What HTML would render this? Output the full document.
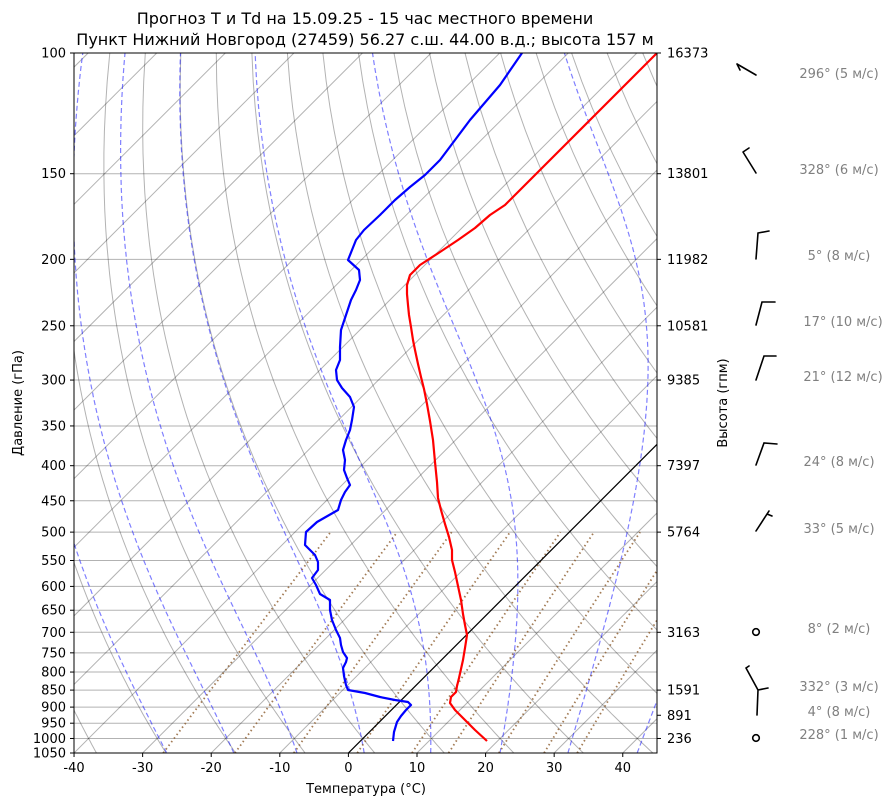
<!DOCTYPE html>
<html><head><meta charset="utf-8">
<style>
html,body{margin:0;padding:0;background:#fff;}
svg{display:block;font-family:"DejaVu Sans","Liberation Sans",sans-serif;}
</style></head>
<body>
<svg id="s" width="895" height="806" viewBox="0 0 895 806" xmlns="http://www.w3.org/2000/svg">
<defs><clipPath id="c"><rect x="74" y="53" width="583" height="700"/></clipPath></defs>
<g id="bg" clip-path="url(#c)"></g>
<g clip-path="url(#c)">
<polyline fill="none" stroke="#f00" stroke-width="2.2" stroke-linejoin="round" points="487,741 475,730 463,718 455,710 450,703 451,697 456,692 457,686 459,678 461,669 463,660 465,648 467,635 465,625 463,614 461,600 458,586 455,572 452,560 452,550 449,537 445,524 441,510 438,498 437,482 435,462 433,440 430,421 427,404 424,389 421,377 418,364 415,350 413,340 411,327 409,315 408,305 407,294 407,285 410,275 420,265 440,252 458,240 475,228 490,215 505,205 520,190 540,170 570,140 600,110 630,80 657,53"/>
<polyline fill="none" stroke="#00f" stroke-width="2.2" stroke-linejoin="round" points="393,741 394,732 397,722 401,716 406,710 411,705 408,702 395,700 380,697 365,693 348,690 346,685 344,676 343,668 346,662 347,658 343,652 341,645 340,638 336,630 332,620 330,610 330,600 320,594 316,585 312,578 318,570 318,562 315,555 305,545 306,532 317,522 338,510 341,500 345,492 350,485 347,478 344,470 345,460 343,450 346,440 350,430 352,420 354,407 350,397 342,388 337,380 336,370 340,360 340,347 341,330 346,315 351,300 356,290 360,280 359,270 348,260 352,250 356,240 364,230 380,215 395,200 410,187 425,175 440,160 455,140 470,120 500,85 522,53"/>
</g>
<rect x="74" y="53" width="583" height="700" fill="none" stroke="#000" stroke-width="1"/>
<g id="ax" font-size="13"></g>
<text x="365" y="24" font-size="16" text-anchor="middle">Прогноз T и Td на 15.09.25 - 15 час местного времени</text>
<text x="365" y="45" font-size="16" text-anchor="middle">Пункт Нижний Новгород (27459) 56.27 с.ш. 44.00 в.д.; высота 157 м</text>
<text x="366" y="793" font-size="13" text-anchor="middle">Температура (°C)</text>
<text transform="translate(22,403) rotate(-90)" font-size="13" text-anchor="middle">Давление (гПа)</text>
<text transform="translate(727,403) rotate(-90)" font-size="13" text-anchor="middle">Высота (гпм)</text>
<g stroke="#000" stroke-width="1.6" fill="none" stroke-linecap="round">
<path d="M756,75 L737,64 M737,64 L740,70"/>
<path d="M756,173 L743,152 M743,152 L749,148"/>
<path d="M756,259 L758,233 L769,231"/>
<path d="M756,325 L762,302 L775,302"/>
<path d="M756,380 L764,356 L776,356"/>
<path d="M756,465 L764,443 L777,444"/>
<path d="M756,531 L769,511 M767,514 L772,516"/>
<circle cx="756" cy="632" r="3.3"/>
<path d="M757,715 L758,690 L768,688 M758,690 L746,668 M746,668 L749,666"/>
<circle cx="756" cy="738" r="3.3"/>
</g>
<g font-size="13" fill="#808080" text-anchor="middle">
<text x="839" y="78">296° (5 м/с)</text>
<text x="839" y="174">328° (6 м/с)</text>
<text x="839" y="260">5° (8 м/с)</text>
<text x="843" y="326">17° (10 м/с)</text>
<text x="843" y="381">21° (12 м/с)</text>
<text x="839" y="466">24° (8 м/с)</text>
<text x="839" y="533">33° (5 м/с)</text>
<text x="839" y="633">8° (2 м/с)</text>
<text x="839" y="691">332° (3 м/с)</text>
<text x="839" y="716">4° (8 м/с)</text>
<text x="839" y="739">228° (1 м/с)</text>
</g>
</svg>
<script>
(function(){
var NS="http://www.w3.org/2000/svg";
var L=Math.log(10.5);
function Y(p){return 753-700*Math.log(1050/p)/L;}
function X(T,p){return 348.4+6.859*T+(753-Y(p));}
var bg=document.getElementById('bg'),ax=document.getElementById('ax');
function el(par,tag,a,txt){var e=document.createElementNS(NS,tag);for(var k in a)e.setAttribute(k,a[k]);if(txt!=null)e.textContent=txt;par.appendChild(e);return e;}
function poly(pts,a){a.points=pts.map(function(q){return q[0].toFixed(1)+','+q[1].toFixed(1)}).join(' ');a.fill='none';el(bg,'polyline',a);}
var levels=[100,150,200,250,300,350,400,450,500,550,600,650,700,750,800,850,900,950,1000,1050];
levels.forEach(function(p){var y=Y(p);el(bg,'line',{x1:74,x2:657,y1:y,y2:y,stroke:'#000','stroke-opacity':0.3,'stroke-width':1});});
for(var T=-200;T<=60;T+=10){el(bg,'line',{x1:X(T,1050),y1:753,x2:X(T,100),y2:53,stroke:'#000','stroke-opacity':0.3,'stroke-width':1});}
for(var t0=-40;t0<=200;t0+=10){var pts=[];for(var p=1050;p>=99;p-=10){var T=(t0+273.15)*Math.pow(p/1000,0.2857)-273.15;pts.push([X(T,p),Y(p)]);}poly(pts,{stroke:'#000','stroke-opacity':0.3,'stroke-width':1});}
function es(T){return 6.112*Math.exp(17.67*T/(T+243.5));}
function dTdp(T,p){var Tk=T+273.15,e=es(T),rs=0.622*e/(p-e);return (287.04*Tk+2.501e6*rs)/(p*(1005.7+2.501e6*2.501e6*rs*0.622/(287.04*Tk*Tk)));}
[-26.5,-16.7,-7.5,2.3,12.0,22.1,32.0,42.1].forEach(function(T0){var T=T0,p=1050,pts=[[X(T,p),Y(p)]];while(p>100){var h=-2;var k1=dTdp(T,p),k2=dTdp(T+h/2*k1,p+h/2);T+=h*k2;p+=h;pts.push([X(T,p),Y(p)]);}poly(pts,{stroke:'#00f','stroke-opacity':0.5,'stroke-width':1.2,'stroke-dasharray':'5,3'});});
[0.0004,0.001,0.002,0.004,0.007,0.01,0.016,0.024,0.032].forEach(function(w){var pts=[];for(var p=1050;p>=500;p-=10){var e=w*p/(0.622+w),l=Math.log(e/6.112),T=243.5*l/(17.67-l);pts.push([X(T,p),Y(p)]);}poly(pts,{stroke:'#8b5a2b','stroke-opacity':0.8,'stroke-width':1.8,'stroke-dasharray':'1.5,3'});});
el(bg,'line',{x1:X(0,1050),y1:753,x2:X(0,100),y2:53,stroke:'#000','stroke-width':1.2});
levels.forEach(function(p){var y=Y(p);el(ax,'line',{x1:70,x2:74,y1:y,y2:y,stroke:'#000'});el(ax,'text',{x:66,y:y+4.5,'text-anchor':'end'},String(p));});
for(var T=-40;T<=40;T+=10){var x=348.4+6.859*T;el(ax,'line',{x1:x,x2:x,y1:753,y2:757,stroke:'#000'});el(ax,'text',{x:x,y:772,'text-anchor':'middle'},String(T));}
[[100,'16373'],[150,'13801'],[200,'11982'],[250,'10581'],[300,'9385'],[400,'7397'],[500,'5764'],[700,'3163'],[850,'1591'],[925,'891'],[1000,'236']].forEach(function(a){var y=Y(a[0]);el(ax,'line',{x1:657,x2:661,y1:y,y2:y,stroke:'#000'});el(ax,'text',{x:667,y:y+4.5},a[1]);});
})();
</script>
</body></html>
